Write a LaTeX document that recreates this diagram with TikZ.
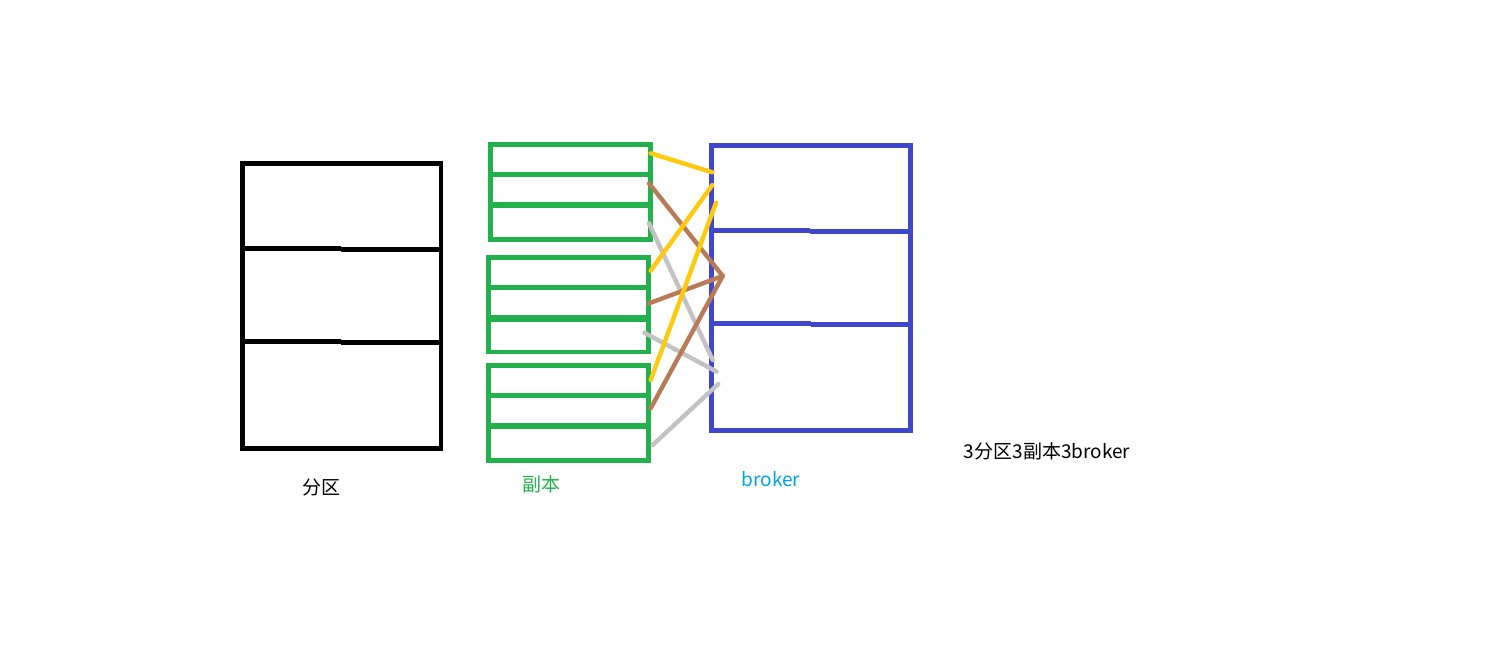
\documentclass[tikz,border=0pt]{standalone}
\usepackage{fontspec}
\newfontfamily\cjk{Noto Sans CJK SC}
\definecolor{pgreen}{HTML}{22B14C}
\definecolor{pblue}{HTML}{3F48CC}
\definecolor{pyellow}{HTML}{FFC90E}
\definecolor{pbrown}{HTML}{B97A57}
\definecolor{pgray}{HTML}{C3C3C3}
\definecolor{pcyan}{HTML}{00A2E8}
\tikzset{
  boxline/.style={line width=4.8pt, line cap=rect},
  thickdiv/.style={line width=6.3pt},
  wire/.style={line width=4.4pt, line cap=round},
  lbl/.style={font=\cjk\fontsize{19}{21}\selectfont, inner sep=0pt, anchor=center}
}
\begin{document}
\begin{tikzpicture}[x=1pt,y=-1pt]
\useasboundingbox (0,0) rectangle (1489,668);
% black partition box
\draw[boxline,black] (242.5,163.5) rectangle (441,448.5);
\draw[line width=4.6pt,black] (242.5,248.5) -- (341,248.5);
\draw[line width=4.6pt,black] (341,249.7) -- (441,249.7);
\draw[line width=4.6pt,black] (242.5,341.3) -- (341,341.3);
\draw[line width=4.6pt,black] (341,342.5) -- (441,342.5);
% green replica groups
\draw[boxline,pgreen] (490.5,144.5) rectangle (650.5,239.5);
\draw[line width=4.6pt,pgreen] (490.5,174.5) -- (650.5,174.5);
\draw[thickdiv,pgreen] (490.5,205) -- (650.5,205);
\draw[boxline,pgreen] (488.5,257.5) rectangle (648.5,352);
\draw[line width=4.6pt,pgreen] (488.5,287.5) -- (648.5,287.5);
\draw[thickdiv,pgreen] (488.5,318.5) -- (648.5,318.5);
\draw[boxline,pgreen] (488.5,365.5) rectangle (648.5,460.5);
\draw[line width=4.6pt,pgreen] (488.5,395.5) -- (648.5,395.5);
\draw[thickdiv,pgreen] (488.5,426) -- (648.5,426);
% blue broker box
\draw[boxline,pblue] (711.5,145.5) rectangle (910.5,430.5);
\draw[line width=4.8pt,pblue] (711.5,230.3) -- (810,230.3);
\draw[line width=4.8pt,pblue] (810,231.5) -- (910.5,231.5);
\draw[line width=4.8pt,pblue] (711.5,323.3) -- (811,323.3);
\draw[line width=4.8pt,pblue] (811,324.3) -- (910.5,324.3);
% connector end points
\coordinate (y1s) at (650.7,153.3); \coordinate (y1e) at (712.3,172.3);
\coordinate (y2s) at (650.7,270.7); \coordinate (y2e) at (712.3,185);
\coordinate (y3s) at (650.7,380);   \coordinate (y3e) at (716,202.7);
\coordinate (b1s) at (649,183.3);   \coordinate (bhub) at (722.7,276);
\coordinate (b2s) at (649,303.3);
\coordinate (b3s) at (650.7,408.3);
\coordinate (g1s) at (649,223.3);   \coordinate (g1e) at (712.7,360);
\coordinate (g2s) at (644.3,332.7); \coordinate (g2e) at (716.7,371.7);
\coordinate (g3s) at (652.7,445);   \coordinate (g3e) at (718.3,384);
% connectors
\draw[wire,pgray] (g1s) -- (g1e);
\draw[wire,pgray] (g2s) -- (g2e);
\draw[wire,pgray] (g3s) -- (g3e);
\draw[wire,pbrown] (b1s) -- (bhub);
\draw[wire,pbrown] (b2s) -- (bhub);
\draw[wire,pbrown] (b3s) -- (bhub);
\draw[wire,pyellow] (y1s) -- (y1e);
\draw[wire,pyellow] (y2s) -- (y2e);
\draw[wire,pyellow] (y3s) -- (y3e);
% labels
\node[lbl,black] (lpart) at (321,487) {分区};
\node[lbl,pgreen] (lrep) at (541,484) {副本};
\node[lbl,pcyan] (lbrk) at (771,479) {broker};
\node[lbl,black] (lsum) at (1047,451) {3分区3副本3broker};
\end{tikzpicture}
\end{document}
